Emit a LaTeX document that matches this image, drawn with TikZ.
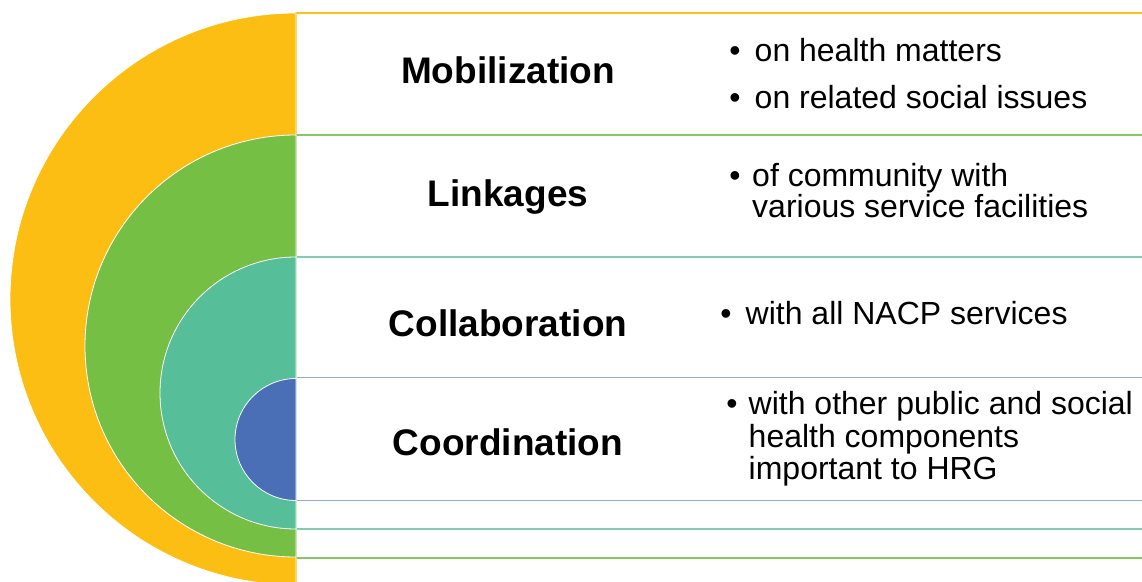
\documentclass[tikz,border=0pt]{standalone}
\usepackage{fontspec}
\setmainfont{Liberation Sans}
\definecolor{cyel}{HTML}{FCBE13}
\definecolor{cgrn}{HTML}{75BF44}
\definecolor{ctea}{HTML}{56BE98}
\definecolor{cblu}{HTML}{4A6FB6}
\definecolor{lyel}{HTML}{FBC21A}
\definecolor{lgrn}{HTML}{86C764}
\definecolor{ltea}{HTML}{80CCB1}
\definecolor{lblu}{HTML}{93ABD8}
\begin{document}
\begin{tikzpicture}[x=1pt,y=1pt,
  band/.style={fill=white, line width=1.5pt},
  half/.style={draw=white, line width=0.8pt},
  title/.style={font=\fontsize{37}{40}\selectfont\bfseries, inner sep=0pt, anchor=base},
  txt/.style={font=\fontsize{32}{32}\selectfont, inner sep=0pt, anchor=base west},
  bul/.style={font=\fontsize{32}{32}\selectfont, inner sep=0pt, anchor=base}]
\useasboundingbox (0,0) rectangle (1142,581);
% text bands
\draw[band, draw=lyel] (296,568) rectangle (1160,-4);
\draw[band, draw=lgrn] (296,446) rectangle (1160,23);
\draw[band, draw=ltea] (296,324) rectangle (1160,52);
\draw[band, draw=lblu] (296,203.5) rectangle (1160,80.5);
% half discs
\path[half, fill=cyel] (296,568) arc[start angle=90, end angle=270, radius=286] -- cycle;
\path[half, fill=cgrn] (296,446) arc[start angle=90, end angle=270, radius=211] -- cycle;
\path[half, fill=ctea] (296,324) arc[start angle=90, end angle=270, radius=136] -- cycle;
\path[half, fill=cblu] (296,202.5) arc[start angle=90, end angle=270, radius=61] -- cycle;
% titles
\node[title] (t1) at (508,497) {Mobilization};
\node[title] (t2) at (508,374) {Linkages};
\node[title] (t3) at (508,244) {Collaboration};
\node[title] (t4) at (508,126) {Coordination};
% bullets
\node[bul] (b1a) at (735,519) {•};
\node[txt] (x1a) at (754.5,519) {on health matters};
\node[bul] (b1b) at (735,472) {•};
\node[txt] (x1b) at (754.5,472) {on related social issues};
\node[bul] (b2) at (735,394) {•};
\node[txt] (x2a) at (752,394) {of community with};
\node[txt] (x2b) at (752,363) {various service facilities};
\node[bul] (b3) at (726,256) {•};
\node[txt] (x3) at (745.5,256) {with all NACP services};
\node[bul] (b4) at (732,166) {•};
\node[txt] (x4a) at (748.5,166) {with other public and social};
\node[txt] (x4b) at (748.5,134) {health components};
\node[txt] (x4c) at (748.5,102) {important to HRG};
\end{tikzpicture}
\end{document}
